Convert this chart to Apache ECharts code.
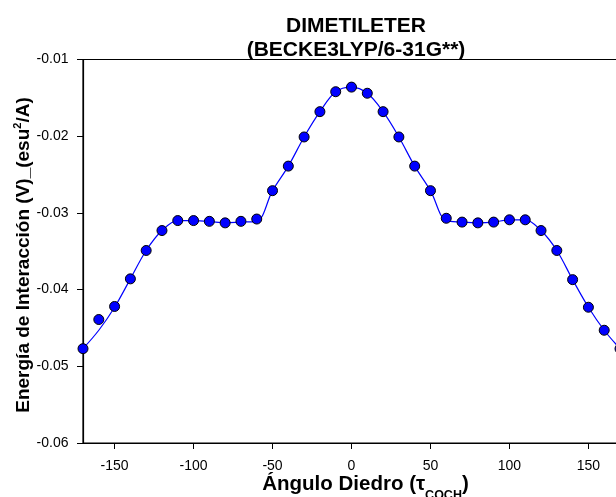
<!DOCTYPE html>
<html><head><meta charset="utf-8">
<script src="https://cdn.jsdelivr.net/npm/echarts@6/dist/echarts.min.js"></script>
<style>html,body{margin:0;padding:0;background:#fff}#c{width:616px;height:497px}</style>
</head><body><div id="c"></div>
<script>
const angles = [-170,-160,-150,-140,-130,-120,-110,-100,-90,-80,-70,-60,-50,-40,-30,-20,-10,0,10,20,30,40,50,60,70,80,90,100,110,120,130,140,150,160,170];
const energies = [-0.0477,-0.0439,-0.0422,-0.0386,-0.0349,-0.0323,-0.0310,-0.0310,-0.0311,-0.0313,-0.0311,-0.0308,-0.0271,-0.0239,-0.0201,-0.0168,-0.0142,-0.0136,-0.0144,-0.0168,-0.0201,-0.0239,-0.0271,-0.0307,-0.0312,-0.0313,-0.0312,-0.0309,-0.0309,-0.0323,-0.0349,-0.0387,-0.0423,-0.0453,-0.0477];
const fitCurve = [-0.0477,-0.0453,-0.0423,-0.0386,-0.0349,-0.0323,-0.0310,-0.0310,-0.0311,-0.0313,-0.0312,-0.0311,-0.0271,-0.0239,-0.0201,-0.0168,-0.0142,-0.0136,-0.0144,-0.0168,-0.0201,-0.0239,-0.0271,-0.0310,-0.0312,-0.0313,-0.0312,-0.0309,-0.0309,-0.0323,-0.0349,-0.0387,-0.0423,-0.0453,-0.0477];
const xTicks = [-150,-100,-50,0,50,100,150];
const titleLines = ['DIMETILETER','(BECKE3LYP/6-31G**)'];
const xName = ['Ángulo Diedro (τ','COCH',')'];
const yName = ['Energía de Interacción (V)_(esu','2','/A)'];

const F = '"Liberation Sans", Arial, sans-serif';
const chart = echarts.init(document.getElementById('c'), null, {renderer:'canvas'});
chart.setOption({
  animation: false,
  backgroundColor: '#fff',
  title: {
    text: titleLines.join('\n'),
    left: 351, top: 9.5, textAlign: 'center',
    textStyle: {fontFamily: F, fontSize: 21, fontWeight: 'bold', color: '#000', lineHeight: 23.5}
  },
  grid: {left: 83, top: 59.5, bottom: 54, right: -4, show: true, borderColor: '#000', borderWidth: 1.2, containLabel: false, outerBoundsMode: 'none'},
  xAxis: {
    type: 'value', min: -170, max: 170,
    axisLine: {show: true, onZero: false, lineStyle: {color: '#000', width: 1.2}},
    axisTick: {show: true, inside: false, length: 6, customValues: xTicks, lineStyle: {color: '#000'}},
    axisLabel: {customValues: xTicks, margin: 16, fontFamily: F, fontSize: 14, color: '#000'},
    splitLine: {show: false}
  },
  yAxis: {
    type: 'value', min: -0.06, max: -0.01, interval: 0.01,
    axisLine: {show: true, onZero: false, lineStyle: {color: '#000', width: 1.2}},
    axisTick: {show: true, inside: false, length: 6, lineStyle: {color: '#000'}},
    axisLabel: {margin: 14.5, fontFamily: F, fontSize: 14, color: '#000', formatter: v => v.toFixed(2)},
    splitLine: {show: false}
  },
  graphic: [
    {
      type: 'text', x: 365.5, y: 502, z: 10,
      style: {
        text: '{b|' + xName[0] + '}{s|' + xName[1] + '}{b|' + xName[2] + '}',
        textAlign: 'center', textVerticalAlign: 'bottom',
        rich: {
          b: {fontFamily: F, fontSize: 20.5, fontWeight: 'bold', fill: '#000', lineHeight: 22, verticalAlign: 'bottom', padding: [0,0,7,0]},
          s: {fontFamily: F, fontSize: 12.5, fontWeight: 'bold', fill: '#000', lineHeight: 12, verticalAlign: 'bottom'}
        }
      }
    },
    {
      type: 'text', x: 23.5, y: 255, rotation: Math.PI/2, z: 10,
      style: {
        text: '{b|' + yName[0] + '}{p|' + yName[1] + '}{b|' + yName[2] + '}',
        textAlign: 'center', textVerticalAlign: 'middle',
        rich: {
          b: {fontFamily: F, fontSize: 19, fontWeight: 'bold', fill: '#000', lineHeight: 22, verticalAlign: 'middle'},
          p: {fontFamily: F, fontSize: 11, fontWeight: 'bold', fill: '#000', lineHeight: 22, verticalAlign: 'top'}
        }
      }
    }
  ],
  series: [
    {
      type: 'line', data: angles.map((a,i)=>[a, fitCurve[i]]),
      smooth: 0.35, showSymbol: false, symbol: 'none',
      lineStyle: {color: '#0000ff', width: 1.2}, z: 2, silent: true
    },
    {
      type: 'scatter', data: angles.map((a,i)=>[a, energies[i]]),
      symbol: 'circle', symbolSize: 10,
      itemStyle: {color: '#0000ff', borderColor: '#000', borderWidth: 1, opacity: 1}, z: 3
    }
  ]
});
</script></body></html>
